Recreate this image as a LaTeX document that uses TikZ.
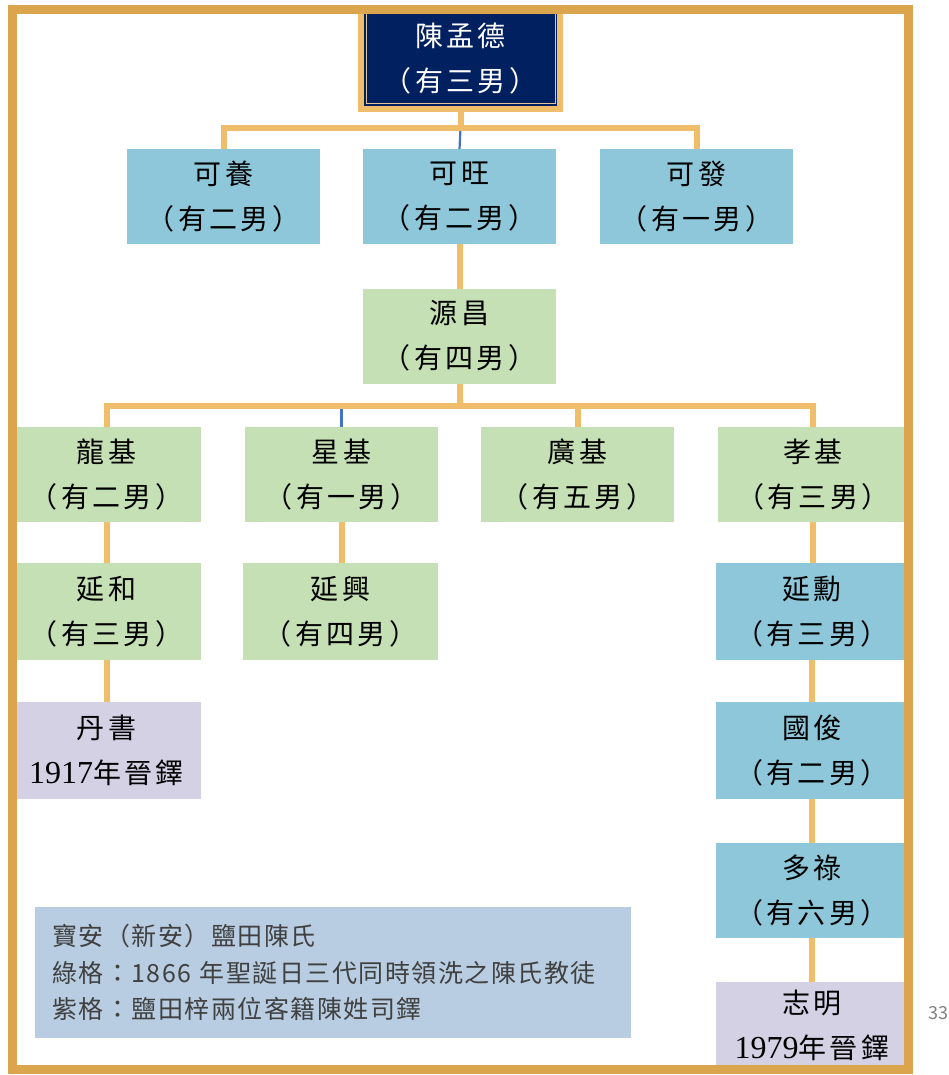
\documentclass[tikz,border=0pt]{standalone}
\usepackage{fontspec}
\setmainfont{Noto Sans CJK TC}
\newfontfamily\numfont{Liberation Serif}
\definecolor{frameorange}{RGB}{218,165,77}
\definecolor{linkorange}{RGB}{240,190,107}
\definecolor{navy}{RGB}{0,32,96}
\definecolor{paleline}{RGB}{222,196,150}
\definecolor{boxblue}{RGB}{141,199,217}
\definecolor{boxgreen}{RGB}{197,224,180}
\definecolor{boxpurple}{RGB}{213,209,229}
\definecolor{noteblue}{RGB}{184,205,225}
\definecolor{notegray}{RGB}{64,64,64}
\definecolor{thinblue}{RGB}{68,114,196}

\begin{document}
\begin{tikzpicture}[x=1pt, y=-1pt,
  box/.style={inner sep=0pt, outer sep=0pt, align=center,
    font=\fontsize{28}{45}\selectfont\addfontfeature{LetterSpace=12}},
  bluebox/.style={box, fill=boxblue, minimum height=95pt},
  greenbox/.style={box, fill=boxgreen, minimum height=95pt},
  purplebox/.style={box, fill=boxpurple, minimum height=97pt},
  topbox/.style={box, fill=navy, draw=linkorange, line width=6pt, text=white,
    minimum width=199pt, minimum height=100pt},
  link/.style={draw=linkorange, line width=6pt},
  thinlink/.style={draw=thinblue, line width=2.2pt},
  frame/.style={draw=frameorange, line width=9pt},
  note/.style={fill=noteblue, text=notegray, align=left, inner xsep=17pt, inner ysep=0pt,
    text width=562pt, minimum height=131pt, outer sep=0pt,
    font=\fontsize{25}{36.5}\selectfont\addfontfeature{LetterSpace=6}},
  pagenum/.style={text=gray, font=\fontsize{18}{18}\selectfont}]

\useasboundingbox (0,0) rectangle (948,1075);

% top
\node[topbox] (chen) at (460.5,59) {陳孟德\\（有三男）};
\draw[draw=paleline, line width=1pt] ([shift={(5,5)}]chen.north west) rectangle ([shift={(-5,-5)}]chen.south east);

% second generation
\node[bluebox, minimum width=193pt] (keyang) at (223.5,196.5) {可養\\（有二男）};
\node[bluebox, minimum width=193pt] (kewang) at (459.5,196.5) {可旺\\（有二男）};
\node[bluebox, minimum width=193pt] (kefa) at (696.5,196.5) {可發\\（有一男）};

\node[greenbox, minimum width=193pt] (yuanchang) at (459.5,336) {源昌\\（有四男）};

% fourth generation
\node[greenbox, minimum width=189pt] (longji) at (106.5,474.5) {龍基\\（有二男）};
\node[greenbox, minimum width=193pt] (xingji) at (341.5,474.5) {星基\\（有一男）};
\node[greenbox, minimum width=193pt] (guangji) at (577.5,474.5) {廣基\\（有五男）};
\node[greenbox, minimum width=190pt] (xiaoji) at (813,474.5) {孝基\\（有三男）};

\node[greenbox, minimum width=189pt, minimum height=97pt] (yanhe) at (106.5,611.5) {延和\\（有三男）};
\node[greenbox, minimum width=195pt, minimum height=97pt] (yanxing) at (340.5,611.5) {延興\\（有四男）};
\node[bluebox, minimum width=192pt, minimum height=97pt] (yanxun) at (812,611.5) {延勳\\（有三男）};

\node[purplebox, minimum width=189pt] (danshu) at (106.5,750.5) {丹書\\{\numfont\fontsize{32}{45}\selectfont 1917}年晉鐸};
\node[bluebox, minimum width=192pt, minimum height=97pt] (guojun) at (812,750.5) {國俊\\（有二男）};
\node[bluebox, minimum width=192pt] (duolu) at (812,890.5) {多祿\\（有六男）};
\node[purplebox, minimum width=192pt, minimum height=87pt] (zhiming) at (812,1025.5) {志明\\{\numfont\fontsize{32}{45}\selectfont 1979}年晉鐸};

% connectors
\coordinate (busA) at (460.5,128);
\coordinate (busB) at (459.5,405.5);
\draw[thinlink] (busA) -- (kewang.north);
\draw[thinlink] (xingji.north |- busB) -- (xingji.north);
\draw[link] (chen.south) -- (busA);
\draw[link] (keyang.north) -- (keyang.north |- busA) -- (kefa.north |- busA) -- (kefa.north);
\draw[link] (kewang.south) -- (yuanchang.north);
\draw[link] (yuanchang.south) -- (busB);
\draw[link] (longji.north) -- (longji.north |- busB) -- (xiaoji.north |- busB) -- (xiaoji.north);
\draw[link] (guangji.north) -- (guangji.north |- busB);
\draw[link] (longji.south) -- (longji.south |- yanhe.north);
\draw[link] (yanhe.south) -- (yanhe.south |- danshu.north);
\draw[link] (xingji.south) -- (xingji.south |- yanxing.north);
\draw[link] (xiaoji.south) -- (xiaoji.south |- yanxun.north);
\draw[link] (yanxun.south) -- (yanxun.south |- guojun.north);
\draw[link] (guojun.south) -- (guojun.south |- duolu.north);
\draw[link] (duolu.south) -- (duolu.south |- zhiming.north);

% legend
\node[note] (legend) at (333,972.5) {寶安（新安）鹽田陳氏\\綠格：1866 年聖誕日三代同時領洗之陳氏教徒\\紫格：鹽田梓兩位客籍陳姓司鐸};

% border
\draw[frame] (12,10) rectangle (908,1069);
\node[pagenum] (page) at (938,1013) {33};

\end{tikzpicture}
\end{document}
